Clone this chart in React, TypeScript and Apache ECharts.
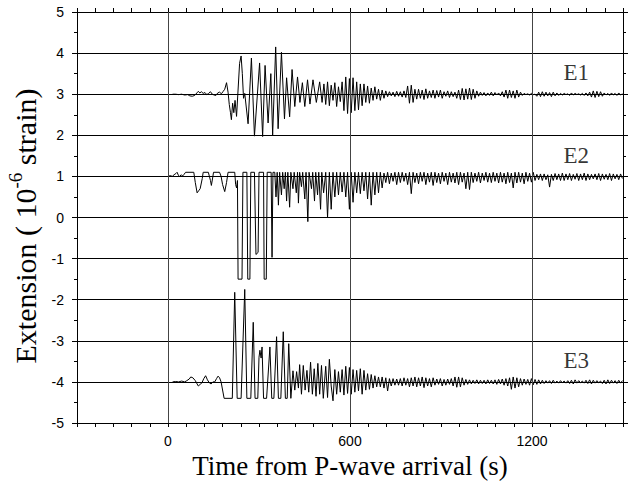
import React, { useEffect, useRef } from "react";
import * as echarts from "echarts";

// ---------- axes ----------
const X_MIN = -300;
const X_MAX = 1500;
const X_TICK_STEP = 60;
const xTickLabels = [0, 600, 1200];
const verticalGridTimes = [0, 600, 1200];
const Y_MIN = -5;
const Y_MAX = 5;
const Y_STEP = 1;

// ---------- trace labels ----------
const traceNames = ["E1", "E2", "E3"];
const labelTimes = [1346, 1346, 1346];
const labelValues = [3.54, 1.52, -3.47];

// ---------- sampling of the coda (tail) ----------
const TAIL_START = 520;
const TAIL_STEP = 6;

// ---------- E1 ----------
const e1Head: [number, number][] = [
  [15, 3.0], [25, 3.0], [35, 2.99], [45, 3.0], [55, 2.98], [65, 2.99], [72, 2.96], [80, 2.95],
  [88, 2.97], [95, 3.03], [100, 3.07], [105, 3.03], [110, 3.06], [116, 3.02], [122, 3.04],
  [128, 2.99], [134, 3.02], [140, 3.06], [146, 3.0], [152, 2.98], [158, 2.97], [164, 3.03],
  [170, 3.05], [176, 3.01], [182, 3.07], [187, 3.12], [193, 3.28], [198, 3.05], [202, 2.75],
  [206, 2.55], [209, 2.38], [213, 2.78], [217, 2.55], [221, 2.85], [226, 2.46], [236, 3.75],
  [241, 3.93], [245, 3.5], [249, 2.9], [253, 3.02], [264, 2.28], [275, 3.88], [285, 1.98],
  [302, 3.76], [312, 1.97], [320, 3.7], [330, 2.3], [339, 3.5], [345, 2.0], [355, 4.15],
  [363, 2.16], [374, 4.02], [384, 2.4], [391, 3.4], [401, 2.45], [409, 3.6], [418, 2.7],
  [427, 3.42], [435, 2.8], [443, 3.28], [451, 2.7], [460, 3.35], [468, 2.76], [478, 3.35],
  [489, 2.8], [500, 3.3], [508, 2.8], [514, 3.25],
];
const e1Tail = [
  2.75, 3.3, 2.72, 3.22, 2.85, 3.28, 2.7, 3.18, 2.82, 3.3,
  2.6, 3.42, 2.53, 3.38, 2.55, 3.4, 2.6, 3.3, 2.62, 3.25,
  2.72, 3.25, 2.8, 3.2, 2.78, 3.15, 2.85, 3.18, 2.88, 3.12,
  2.85, 3.1, 2.9, 3.08, 2.94, 3.06, 2.96, 3.05, 2.94, 3.07,
  2.95, 3.06, 2.93, 3.08, 2.92, 3.2, 2.78, 3.22, 2.8, 3.12,
  2.88, 3.12, 2.9, 3.1, 2.87, 3.13, 2.9, 3.08, 2.92, 3.1,
  2.9, 3.09, 2.93, 3.1, 2.9, 3.06, 2.95, 3.08, 2.92, 3.06,
  2.94, 3.05, 2.9, 3.1, 2.87, 3.14, 2.86, 3.13, 2.88, 3.15,
  2.87, 3.12, 2.9, 3.08, 2.95, 3.05, 2.97, 3.04, 2.96, 3.03,
  2.97, 3.05, 2.96, 3.04, 2.98, 3.03, 2.96, 3.06, 2.93, 3.1,
  2.9, 3.1, 2.92, 3.08, 2.9, 3.1, 2.93, 3.05, 2.97, 3.02,
  2.99, 3.01, 2.98, 3.02, 2.99, 3.0, 2.95, 3.05, 2.94, 3.06,
  2.95, 3.05, 2.96, 3.04, 2.94, 3.05, 2.96, 3.03, 2.97, 3.02,
  2.98, 3.02, 2.99, 3.01, 2.97, 3.03, 2.98, 3.02, 2.99, 3.01,
  2.98, 3.02, 2.97, 3.03, 2.96, 3.05, 2.93, 3.08, 2.92, 3.07,
  2.94, 3.06, 2.95, 3.03, 2.98, 3.02, 2.97, 3.03, 2.98, 3.02,
  2.97, 3.03, 2.98, 3.01,
];

// ---------- E2 ----------
const e2Head: [number, number][] = [
  [0, 1.0], [8, 1.02], [14, 1.0], [20, 1.04], [26, 1.07], [30, 1.1], [34, 1.03], [38, 1.0],
  [44, 1.04], [48, 1.01], [53, 1.05], [58, 1.1], [85, 1.1], [90, 0.85], [96, 0.6], [101, 0.65],
  [106, 0.7], [113, 0.95], [116, 1.1], [133, 1.1], [140, 0.9], [143, 0.78], [148, 1.0],
  [150, 1.1], [170, 1.1], [175, 1.0], [180, 0.8], [187, 0.63], [193, 0.85], [198, 1.1],
  [220, 1.1], [223, 0.8], [226, 0.72], [229, 0.9], [231, -1.5], [244, -1.5], [247, 1.1],
  [260, 1.1], [263, -1.5], [270, -1.5], [273, 1.1], [285, 1.1], [290, -0.9], [297, -0.85],
  [300, 1.1], [315, 1.1], [317, -1.5], [324, -1.5], [327, 1.1], [340, 1.1], [343, -0.97],
  [346, 1.1], [352, 1.1], [356, 0.5], [360, 1.1], [364, 0.3], [368, 1.1], [374, 0.55],
  [378, 1.1], [383, 0.7], [387, 1.1], [391, 0.4], [395, 1.1], [401, 0.25], [405, 1.1],
  [412, 0.7], [416, 1.1], [423, 0.6], [427, 1.1], [430, 0.35], [434, 1.1], [440, 0.75],
  [444, 1.1], [451, 0.45], [455, 1.1], [461, -0.1], [465, 1.1], [473, 0.7], [477, 1.1],
  [483, 0.4], [487, 1.1], [493, 0.55], [497, 1.1], [503, 0.2], [507, 1.1], [513, 0.6],
];
const e2Tail = [
  1.1, 0.0, 1.1, 0.2, 1.1, 0.5, 1.1, 0.55, 1.1, 0.62,
  1.1, 0.5, 1.1, 0.2, 1.1, 0.37, 1.1, 0.6, 1.1, 0.58,
  1.1, 0.65, 1.1, 0.45, 1.1, 0.3, 1.1, 0.55, 1.1, 0.6,
  1.1, 0.72, 1.08, 0.85, 1.1, 0.82, 1.08, 0.88, 1.1, 0.8,
  1.1, 0.85, 1.1, 0.88, 1.08, 0.8, 1.1, 0.58, 1.1, 0.85,
  1.08, 0.82, 1.1, 0.88, 1.1, 0.8, 1.08, 0.86, 1.1, 0.78,
  1.1, 0.85, 1.08, 0.82, 1.1, 0.88, 1.08, 0.8, 1.1, 0.86,
  1.08, 0.84, 1.1, 0.8, 1.1, 0.86, 1.08, 0.7, 1.1, 0.68,
  1.1, 0.85, 1.08, 0.88, 1.1, 0.84, 1.08, 0.9, 1.1, 0.86,
  1.08, 0.85, 1.1, 0.88, 1.08, 0.84, 1.1, 0.86, 1.08, 0.82,
  1.1, 0.85, 1.08, 0.72, 1.1, 0.84, 1.1, 0.86, 1.08, 0.82,
  1.1, 0.88, 1.08, 0.86, 1.1, 0.9, 1.05, 0.92, 1.06, 0.9,
  1.06, 0.92, 1.04, 0.74, 1.05, 0.9, 1.07, 0.92, 1.06, 0.9,
  1.08, 0.9, 1.06, 0.92, 1.07, 0.9, 1.05, 0.93, 1.07, 0.9,
  1.06, 0.92, 1.08, 0.9, 1.06, 0.92, 1.05, 0.94, 1.06, 0.92,
  1.07, 0.9, 1.06, 0.93, 1.05, 0.92, 1.07, 0.9, 1.06, 0.94,
  1.05, 0.92, 1.06, 0.95,
];

// ---------- E3 ----------
const e3Head: [number, number][] = [
  [15, -4.0], [25, -3.99], [35, -4.0], [45, -3.98], [55, -4.0], [62, -3.97], [70, -3.93],
  [75, -3.88], [82, -3.9], [90, -3.97], [96, -4.05], [100, -4.1], [106, -4.06], [112, -4.02],
  [118, -3.92], [124, -3.85], [130, -3.95], [136, -4.02], [142, -4.05], [148, -4.0],
  [154, -4.0], [160, -3.92], [165, -3.86], [170, -3.9], [175, -4.0], [185, -4.4], [212, -4.4],
  [220, -1.82], [228, -4.4], [241, -4.4], [253, -1.75], [260, -4.4], [273, -4.4], [281, -2.55],
  [287, -4.4], [296, -4.4], [300, -3.4], [303, -3.23], [307, -3.42], [310, -3.15], [315, -4.4],
  [325, -4.4], [336, -3.15], [342, -4.4], [349, -4.4], [358, -2.9], [364, -4.4], [372, -4.4],
  [380, -2.78], [387, -4.4], [393, -4.4], [398, -3.07], [405, -4.4], [412, -3.73], [418, -4.2],
  [424, -3.75], [430, -4.15], [434, -3.58], [440, -4.3], [446, -3.6], [452, -4.2], [458, -3.72],
  [464, -4.25], [470, -3.52], [476, -4.3], [482, -3.68], [488, -4.35], [494, -3.55], [500, -4.3],
  [506, -3.6], [512, -4.4],
];
const e3Tail = [
  -3.62, -4.38, -3.45, -4.1, -4.46, -3.7, -4.3, -3.75, -4.25, -3.7,
  -4.32, -3.62, -4.28, -3.65, -4.3, -3.7, -4.25, -3.72, -4.22, -3.68,
  -4.3, -3.72, -4.2, -3.8, -4.18, -3.82, -4.15, -3.85, -4.12, -3.88,
  -4.12, -3.88, -4.15, -3.9, -4.22, -3.92, -4.1, -3.92, -4.08, -3.93,
  -4.08, -3.92, -4.1, -3.9, -4.08, -3.92, -4.12, -3.9, -4.1, -3.88,
  -4.12, -3.9, -4.1, -3.88, -4.14, -3.9, -4.1, -3.92, -4.12, -3.9,
  -4.08, -3.93, -4.06, -3.92, -4.1, -3.94, -4.08, -3.93, -4.06, -3.92,
  -4.1, -3.88, -4.13, -3.88, -4.12, -3.9, -4.08, -3.94, -4.06, -3.95,
  -4.05, -3.96, -4.04, -3.95, -4.05, -3.96, -4.04, -3.96, -4.05, -3.95,
  -4.04, -3.96, -4.05, -3.95, -4.06, -3.94, -4.05, -3.93, -4.08, -3.92,
  -4.1, -3.9, -4.18, -3.88, -4.15, -3.9, -4.12, -3.92, -4.08, -3.93,
  -4.06, -3.94, -4.08, -3.92, -4.07, -3.94, -4.06, -3.95, -4.05, -3.96,
  -4.04, -3.97, -4.03, -3.97, -4.04, -3.96, -4.03, -3.98, -4.03, -3.97,
  -4.02, -3.98, -4.03, -3.97, -4.04, -3.96, -4.05, -3.95, -4.03, -3.97,
  -4.02, -3.98, -4.03, -3.96, -4.04, -3.95, -4.05, -3.96, -4.03, -3.97,
  -4.02, -3.98, -4.04, -3.96, -4.05, -3.95, -4.04, -3.96, -4.03, -3.97,
  -4.04, -3.96, -4.03, -3.97,
];

const SANS = "'Liberation Sans', Arial, Helvetica, sans-serif";
const SERIF = "'Liberation Serif', 'Times New Roman', Times, serif";

function buildTrace(head: [number, number][], tail: number[]): [number, number][] {
  return head.concat(tail.map((v, i) => [TAIL_START + i * TAIL_STEP, v] as [number, number]));
}

export default function App() {
  const ref = useRef<HTMLDivElement>(null);

  useEffect(() => {
    if (!ref.current) return;
    const chart = echarts.init(ref.current, null, { renderer: "svg" });

    const traces = [
      buildTrace(e1Head, e1Tail),
      buildTrace(e2Head, e2Tail),
      buildTrace(e3Head, e3Tail),
    ];

    const axisLine = { show: true, onZero: false, lineStyle: { color: "#000", width: 1 } };

    const baseX = {
      type: "value" as const,
      min: X_MIN,
      max: X_MAX,
      interval: X_TICK_STEP,
      axisLine,
      splitLine: { show: false },
      axisTick: { show: true, length: 4, lineStyle: { color: "#000" } },
    };
    const baseY = {
      type: "value" as const,
      min: Y_MIN,
      max: Y_MAX,
      interval: Y_STEP,
      axisLine,
      axisTick: { show: true, length: 5, lineStyle: { color: "#000" } },
      minorTick: { show: true, splitNumber: 2, length: 3, lineStyle: { color: "#000" } },
    };

    const traceSeries = traces.map((data, i) => ({
      name: traceNames[i],
      type: "line",
      data,
      showSymbol: false,
      symbol: "none",
      z: 3,
      lineStyle: { color: "#000", width: 1 },
    }));

    chart.setOption({
      animation: false,
      backgroundColor: "#fff",
      grid: { left: 77, right: 8, top: 12, bottom: 58 },
      xAxis: [
        {
          ...baseX,
          position: "bottom",
          axisLabel: {
            show: true,
            margin: 11,
            color: "#000",
            fontSize: 14,
            fontFamily: SANS,
            formatter: (v: number) => (xTickLabels.includes(v) ? String(v) : ""),
          },
        },
        {
          ...baseX,
          position: "top",
          axisLabel: { show: false },
        },
      ],
      yAxis: [
        {
          ...baseY,
          position: "left",
          splitLine: { show: true, lineStyle: { color: "#000", width: 1 } },
          axisLabel: { show: true, margin: 13, color: "#000", fontSize: 14, fontFamily: SANS },
        },
        {
          ...baseY,
          position: "right",
          splitLine: { show: false },
          axisLabel: { show: false },
        },
      ],
      series: [
        {
          name: "grid",
          type: "line",
          data: [],
          z: 1,
          markLine: {
            silent: true,
            symbol: "none",
            label: { show: false },
            lineStyle: { color: "#444", width: 1, type: "solid" },
            data: verticalGridTimes.map((t) => ({ xAxis: t })),
          },
        },
        ...traceSeries,
        {
          name: "labels",
          type: "scatter",
          z: 4,
          symbolSize: 1,
          itemStyle: { color: "rgba(0,0,0,0)" },
          data: traceNames.map((n, i) => [labelTimes[i], labelValues[i], n]),
          label: {
            show: true,
            position: "inside",
            color: "#000",
            fontSize: 23,
            fontFamily: SERIF,
            formatter: (p: any) => p.data[2],
          },
        },
      ],
      graphic: [
        {
          type: "text",
          x: 23,
          y: 226,
          rotation: Math.PI / 2,
          style: {
            text: "{a|Extension ( 10}{b|-6}{a| strain)}",
            align: "center",
            verticalAlign: "middle",
            rich: {
              a: { fontSize: 30, fontFamily: SERIF, fill: "#000", lineHeight: 34, verticalAlign: "bottom" },
              b: { fontSize: 19, fontFamily: SERIF, fill: "#000", lineHeight: 34, verticalAlign: "top" },
            },
          },
        },
        {
          type: "text",
          x: 350,
          y: 466,
          style: {
            text: "Time from P-wave arrival (s)",
            align: "center",
            verticalAlign: "middle",
            fontSize: 27,
            fontFamily: SERIF,
            fill: "#000",
          },
        },
      ],
    });

    return () => chart.dispose();
  }, []);

  return (
    <div
      ref={ref}
      style={{ position: "fixed", left: 0, top: 0, width: 631, height: 481, background: "#fff" }}
    />
  );
}
